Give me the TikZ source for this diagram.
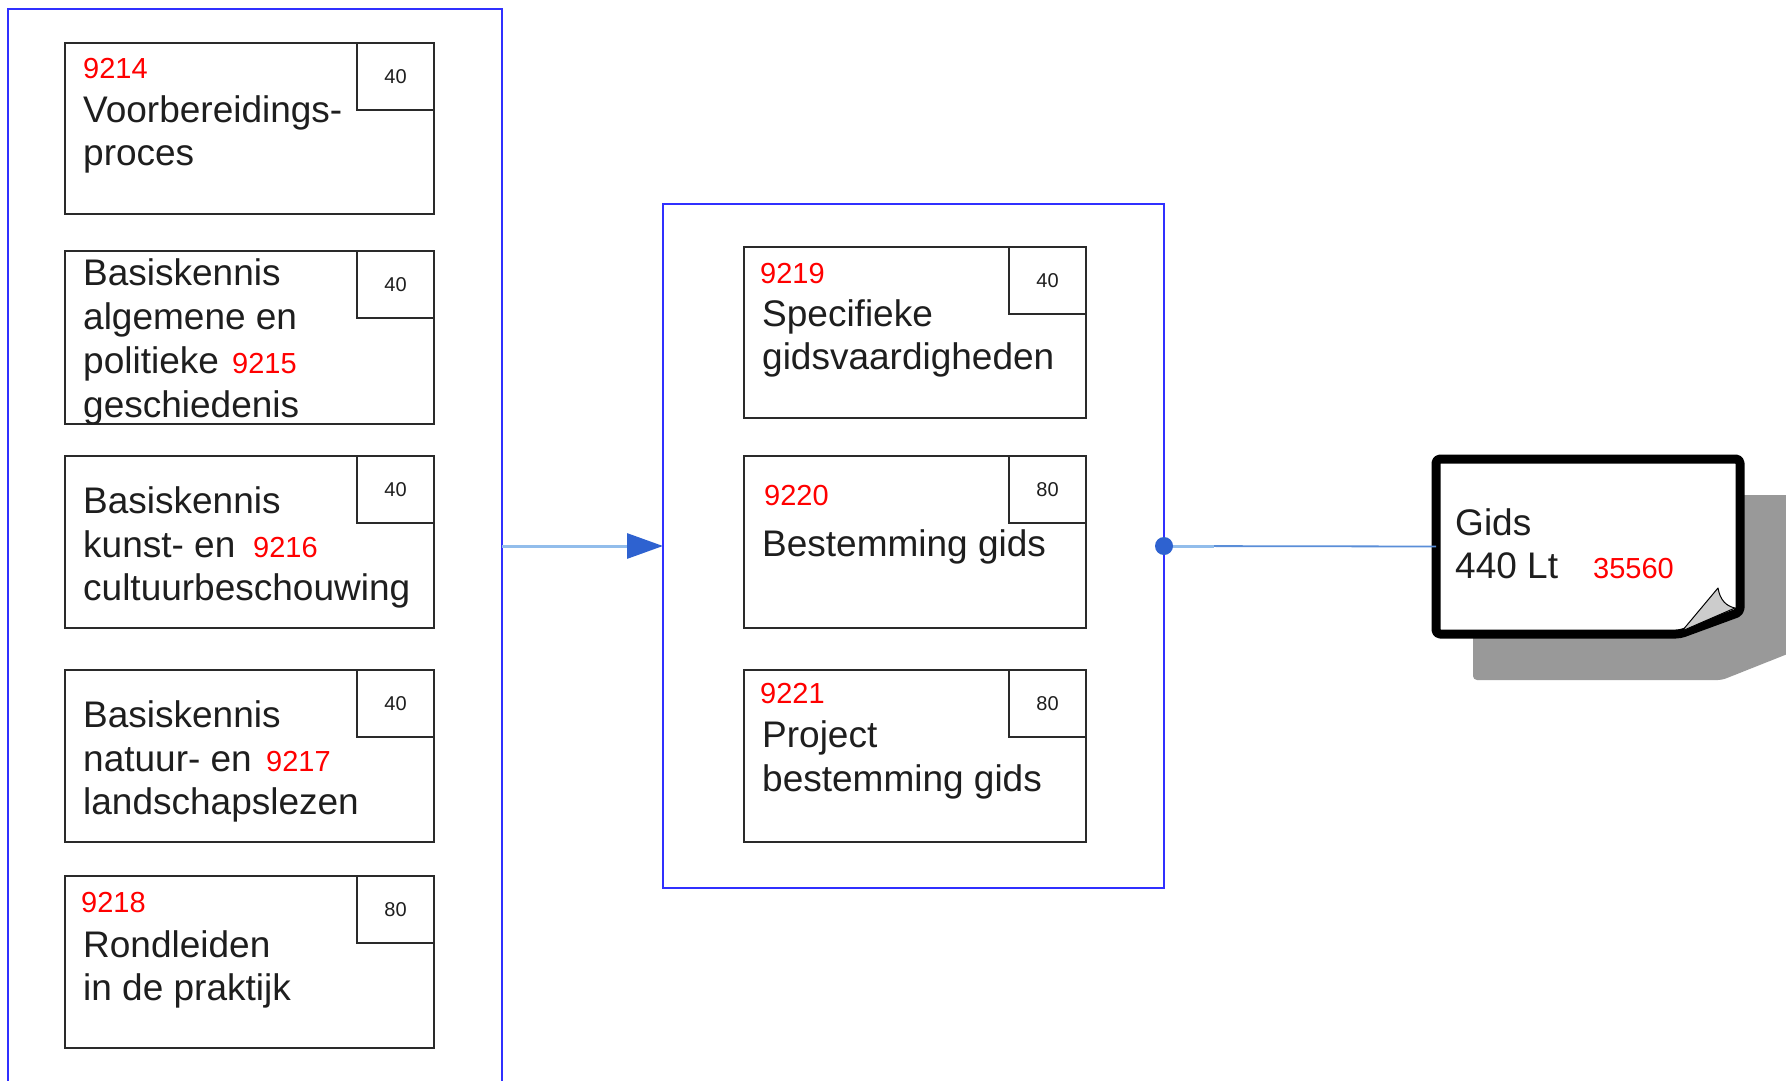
\documentclass[tikz,border=0pt]{standalone}
\usepackage{fontspec}
\setmainfont{Liberation Sans}
\usetikzlibrary{arrows.meta}
\definecolor{cblue}{HTML}{3030FF}
\definecolor{boxgray}{HTML}{2A2A2A}
\definecolor{txtc}{HTML}{1E1E1E}
\definecolor{numred}{HTML}{FF0000}
\definecolor{arrowblue}{HTML}{2E62D0}
\definecolor{lineblue}{HTML}{92BDEB}
\definecolor{linedark}{HTML}{5A8ED8}
\definecolor{shadowgray}{HTML}{999999}
\definecolor{flapgray}{HTML}{CCCCCC}
\begin{document}
\begin{tikzpicture}[x=1pt,y=-1pt,
  container/.style={draw=cblue, line width=2.5pt, rectangle, inner sep=0pt, outer sep=0pt},
  pbox/.style={draw=boxgray, line width=2.5pt, rectangle, inner sep=0pt, outer sep=0pt, minimum width=369pt, minimum height=171pt},
  mbox/.style={draw=boxgray, line width=2.5pt, rectangle, inner sep=0pt, outer sep=0pt, minimum width=342pt, minimum height=171pt},
  nbox/.style={draw=boxgray, line width=2pt, rectangle, inner sep=0pt, outer sep=0pt, minimum width=77pt, minimum height=67pt, font=\fontsize{20}{24}\selectfont, text=txtc, anchor=north east},
  txt/.style={anchor=base west, inner sep=0pt, font=\fontsize{37}{44}\selectfont, text=txtc},
  num/.style={anchor=base west, inner sep=0pt, font=\fontsize{29}{34}\selectfont, text=numred},
  conn/.style={draw=lineblue, line width=3pt},
]
\useasboundingbox (0,0) rectangle (1786,1081);
\clip (0,0) rectangle (1786,1081);
\fill[white] (0,0) rectangle (1786,1081);

% containers
\node[container, minimum width=494pt, minimum height=1091pt] (leftc) at (255,554.5) {};
\node[container, minimum width=501pt, minimum height=684pt] (midc) at (913.5,546) {};

% left boxes
\node[pbox, minimum height=171pt] (b1) at (249.5,128.5) {};
\node[nbox] (n1) at (b1.north east) {40};
\node[pbox, minimum height=173pt] (b2) at (249.5,337.5) {};
\node[nbox] (n2) at (b2.north east) {40};
\node[pbox, minimum height=172pt] (b3) at (249.5,542) {};
\node[nbox] (n3) at (b3.north east) {40};
\node[pbox, minimum height=172pt] (b4) at (249.5,756) {};
\node[nbox] (n4) at (b4.north east) {40};
\node[pbox, minimum height=172pt] (b5) at (249.5,962) {};
\node[nbox] (n5) at (b5.north east) {80};

% middle boxes
\node[mbox, minimum height=171pt] (b6) at (915,332.5) {};
\node[nbox] (n6) at (b6.north east) {40};
\node[mbox, minimum height=172pt] (b7) at (915,542) {};
\node[nbox] (n7) at (b7.north east) {80};
\node[mbox, minimum height=172pt] (b8) at (915,756) {};
\node[nbox] (n8) at (b8.north east) {80};

% texts left
\node[num] (t1a) at (83,78) {9214};
\node[txt] (t1b) at (83,122) {Voorbereidings-};
\node[txt] (t1c) at (83,165) {proces};

\node[txt] (t2a) at (83,285) {Basiskennis};
\node[txt] (t2b) at (83,329) {algemene en};
\node[txt] (t2c) at (83,373) {politieke};
\node[num] (t2d) at (232,373) {9215};
\node[txt] (t2e) at (83,417) {geschiedenis};

\node[txt] (t3a) at (83,513) {Basiskennis};
\node[txt] (t3b) at (83,557) {kunst- en};
\node[num] (t3c) at (253,557) {9216};
\node[txt] (t3d) at (83,600) {cultuurbeschouwing};

\node[txt] (t4a) at (83,727) {Basiskennis};
\node[txt] (t4b) at (83,771) {natuur- en};
\node[num] (t4c) at (266,771) {9217};
\node[txt] (t4d) at (83,814) {landschapslezen};

\node[num] (t5a) at (81,912) {9218};
\node[txt] (t5b) at (83,957) {Rondleiden};
\node[txt] (t5c) at (83,1000) {in de praktijk};

% texts middle
\node[num] (t6a) at (760,283) {9219};
\node[txt] (t6b) at (762,326) {Specifieke};
\node[txt] (t6c) at (762,369) {gidsvaardigheden};

\node[num] (t7a) at (764,505) {9220};
\node[txt] (t7b) at (762,556) {Bestemming gids};

\node[num] (t8a) at (760,703) {9221};
\node[txt] (t8b) at (762,747) {Project};
\node[txt] (t8c) at (762,791) {bestemming gids};

% output document
\node[inner sep=0pt, outer sep=0pt, minimum width=304pt, minimum height=175pt] (gids) at (1588,546.5) {};
\fill[shadowgray, rounded corners=4pt] (1473,495) -- (1790,495) -- (1790,653) -- (1722,680) -- (1473,680) -- cycle;
\draw[line width=9pt, fill=white, rounded corners=4pt, line join=round] (1436,459) -- (1740,459) -- (1740,612) -- (1680,634) -- (1436,634) -- cycle;
\filldraw[fill=flapgray, draw=black, line width=1pt, line join=round] (1682,631) -- (1718,588) .. controls (1720,600) and (1726,606) .. (1735,608) -- cycle;
\node[txt] (tga) at (1455,535) {Gids};
\node[txt] (tgb) at (1455,578) {440 Lt};
\node[num] (tgc) at (1593,578) {35560};

% connectors
\draw[conn, -{Triangle[length=36pt, width=25pt, color=arrowblue]}] (leftc.east |- midc.west) -- (midc.west);
\draw[draw=linedark, line width=1.8pt] (midc.east) -- (gids.west);
\draw[conn] (midc.east) -- ([xshift=50pt]midc.east);
\fill[arrowblue] (midc.east) circle (9pt);
\end{tikzpicture}
\end{document}
